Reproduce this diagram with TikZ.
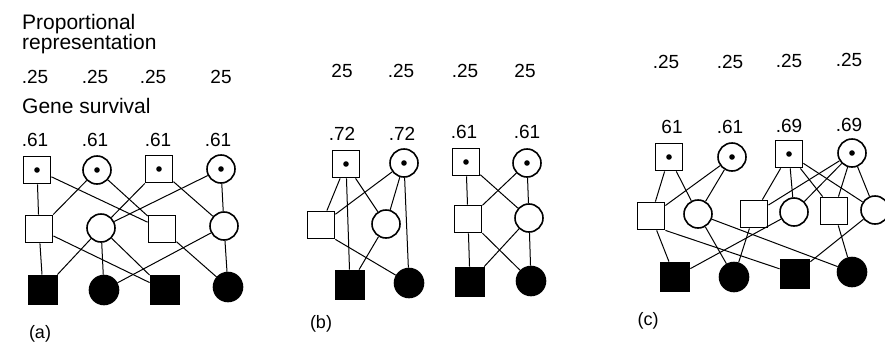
\documentclass[tikz,border=0pt]{standalone}
\usepackage{fontspec}
\setmainfont{Liberation Sans}
\begin{document}
\begin{tikzpicture}[x=1pt,y=-1pt,
  sq/.style={draw,line width=1.8pt,fill=white,rectangle,minimum size=27pt,inner sep=0pt},
  ci/.style={draw,line width=1.6pt,fill=white,circle,minimum size=28pt,inner sep=0pt},
  fsq/.style={sq,fill=black,minimum size=29pt},
  fci/.style={ci,fill=black,minimum size=29pt},
  dot/.style={path picture={\fill[black] (path picture bounding box.center) circle (2.8pt);}},
  num/.style={font=\fontsize{19}{22}\selectfont,inner sep=0pt,anchor=base},
  lab/.style={font=\fontsize{21}{25}\selectfont,inner sep=0pt,anchor=base west},
  plab/.style={font=\fontsize{18}{21}\selectfont,inner sep=0pt},
  link/.style={line width=1pt}]
\useasboundingbox (0,0) rectangle (885,343);

% ---------------- texts ----------------
\node[lab] (t1) at (22,29) {Proportional};
\node[lab] (t2) at (22,49) {representation};
\node[lab] (t3) at (22,113) {Gene survival};

\node[num] (pa1) at (35,83) {.25};
\node[num] (pa2) at (95,83) {.25};
\node[num] (pa3) at (153,83) {.25};
\node[num] (pa4) at (221,83) {25};
\node[num] (ga1) at (35,146) {.61};
\node[num] (ga2) at (95,146) {.61};
\node[num] (ga3) at (158,146) {.61};
\node[num] (ga4) at (218,146) {.61};

\node[num] (pb1) at (342,77) {25};
\node[num] (pb2) at (401,77) {.25};
\node[num] (pb3) at (465,77) {.25};
\node[num] (pb4) at (525,77) {25};
\node[num] (gb1) at (342,140) {.72};
\node[num] (gb2) at (402,140) {.72};
\node[num] (gb3) at (464,138) {.61};
\node[num] (gb4) at (527,138) {.61};

\node[num] (pc1) at (666,68) {.25};
\node[num] (pc2) at (730,68) {.25};
\node[num] (pc3) at (789,67) {.25};
\node[num] (pc4) at (849,66) {.25};
\node[num] (gc1) at (672,133) {61};
\node[num] (gc2) at (730,133) {.61};
\node[num] (gc3) at (789,132) {.69};
\node[num] (gc4) at (849,131) {.69};

\node[plab] (la) at (40,334) {(a)};
\node[plab] (lb) at (321,324) {(b)};
\node[plab] (lc) at (648,321) {(c)};

% ---------------- panel (a) ----------------
\node[sq,dot] (A1) at (37,170) {};
\node[ci,dot] (A2) at (97,170) {};
\node[sq,dot] (A3) at (159,169) {};
\node[ci,dot] (A4) at (221,169) {};
\node[sq] (B1) at (39,229) {};
\node[ci] (B2) at (101,228) {};
\node[sq] (B3) at (162,229) {};
\node[ci] (B4) at (224,226) {};
\node[fsq] (C1) at (43,290) {};
\node[fci] (C2) at (104,290) {};
\node[fsq] (C3) at (165,290) {};
\node[fci] (C4) at (228,287) {};

\draw[link] (A1) -- (B1);
\draw[link] (A1) -- (B3);
\draw[link] (A2) -- (B1);
\draw[link] (A2) -- (B3);
\draw[link] (A3) -- (B2);
\draw[link] (A4) -- (B2);
\draw[link] (A3) -- (B4);
\draw[link] (A4) -- (B4);
\draw[link] (B1) -- (C1);
\draw[link] (B2) -- (C1);
\draw[link] (B2) -- (C2);
\draw[link] (B1) -- (C3);
\draw[link] (B2) -- (C3);
\draw[link] (B4) -- (C2);
\draw[link] (B3) -- (C4);
\draw[link] (B4) -- (C4);

% ---------------- panel (b), left ----------------
\node[sq,dot] (P1) at (346,164) {};
\node[ci,dot] (P2) at (404,163) {};
\node[sq] (P3) at (321,225) {};
\node[ci] (P4) at (386,224) {};
\node[fsq] (P5) at (350,285) {};
\node[fci] (P6) at (409,283) {};

\draw[link] (P1) -- (P3);
\draw[link] (P1) -- (P4);
\draw[link] (P2) -- (P3);
\draw[link] (P2) -- (P4);
\draw[link] (P1) -- (P5);
\draw[link] (P2) -- (P6);
\draw[link] (P4) -- (P5);
\draw[link] (P3.south east) -- (P6);

% ---------------- panel (b), right ----------------
\node[sq,dot] (Q1) at (466,162) {};
\node[ci,dot] (Q2) at (527,163) {};
\node[sq] (Q3) at (468,219) {};
\node[ci] (Q4) at (529,218) {};
\node[fsq] (Q5) at (470,282) {};
\node[fci] (Q6) at (531,281) {};

\draw[link] (Q1) -- (Q3);
\draw[link] (Q1) -- (Q4);
\draw[link] (Q2) -- (Q3);
\draw[link] (Q2) -- (Q4);
\draw[link] (Q3) -- (Q5);
\draw[link] (Q3) -- (Q6);
\draw[link] (Q4) -- (Q5);
\draw[link] (Q4) -- (Q6);

% ---------------- panel (c) ----------------
\node[sq,dot] (R1) at (669,157) {};
\node[ci,dot] (R2) at (732,157) {};
\node[sq,dot] (R3) at (789,154) {};
\node[ci,dot] (R4) at (852,153) {};
\node[sq] (S1) at (651,216) {};
\node[ci] (S2) at (698,214) {};
\node[sq] (S3) at (754,214) {};
\node[ci] (S4) at (794,212) {};
\node[sq] (S5) at (834,211) {};
\node[ci] (S6) at (875,210) {};
\node[fsq] (T1) at (675,277) {};
\node[fci] (T2) at (734,277) {};
\node[fsq] (T3) at (795,274) {};
\node[fci] (T4) at (852,272) {};

\draw[link] (R1) -- (S1);
\draw[link] (R1) -- (S2);
\draw[link] (R2) -- (S1);
\draw[link] (R2) -- (S2);
\draw[link] (R3) -- (S3);
\draw[link] (R3) -- (S4);
\draw[link] (R3) -- (S5);
\draw[link] (R3) -- (S6);
\draw[link] (R4) -- (S3);
\draw[link] (R4) -- (S4);
\draw[link] (R4) -- (S5);
\draw[link] (R4) -- (S6);
\draw[link] (S1) -- (T1);
\draw[link] (S4) -- (T1);
\draw[link] (S2) -- (T2);
\draw[link] (S3) -- (T2);
\draw[link] (S1.south east) -- (T3);
\draw[link] (S6) -- (T3);
\draw[link] (S2) -- (T4);
\draw[link] (S5) -- (T4);
\end{tikzpicture}
\end{document}
